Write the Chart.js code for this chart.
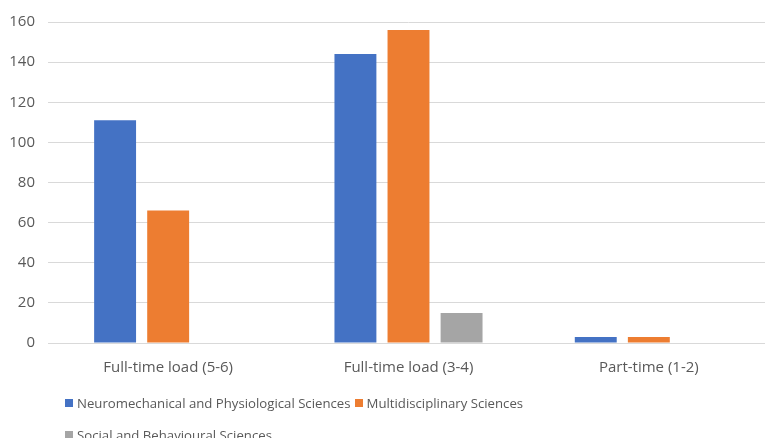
<!DOCTYPE html>
<html>
<head>
<meta charset="utf-8">
<script src="https://cdn.jsdelivr.net/npm/chart.js@4/dist/chart.umd.min.js"></script>
<style>
  html, body { margin: 0; padding: 0; background: #fff; overflow: hidden; width: 765px; height: 438px; }
  #wrap { position: relative; width: 772px; height: 393px; }
  #legend { position: absolute; left: 65px; top: 387px; width: 560px; display: flex; flex-wrap: wrap;
            font-family: "Open Sans", "Liberation Sans", sans-serif; font-size: 13.2px; color: #595959; }
  .item { display: flex; align-items: center; height: 32px; margin-right: 4px; white-space: nowrap; }
  .box { width: 8px; height: 8px; margin-right: 4px; }
</style>
</head>
<body>
<div id="wrap"><canvas id="c"></canvas></div>
<div id="legend"></div>
<script>
// Course load categories
const categories = ["Full-time load (5-6)", "Full-time load (3-4)", "Part-time (1-2)"];
// Number of students per discipline group
const neuroValues = [111, 144, 3];
const multiValues = [66, 156, 3];
const socialValues = [0, 15, 0];
const seriesNames = ["Neuromechanical and Physiological Sciences", "Multidisciplinary Sciences", "Social and Behavioural Sciences"];
const yTicks = [0, 20, 40, 60, 80, 100, 120, 140, 160];

const colors = ["#4472C4", "#ED7D31", "#A5A5A5"];
const textColor = "#595959";
const fontFamily = '"Open Sans", "Liberation Sans", sans-serif';

const chart = new Chart(document.getElementById("c"), {
  type: "bar",
  data: {
    labels: categories,
    datasets: [neuroValues, multiValues, socialValues].map((vals, i) => ({
      label: seriesNames[i],
      data: vals,
      backgroundColor: colors[i],
      borderWidth: 0,
      barPercentage: 0.79,
      categoryPercentage: 0.6625
    }))
  },
  options: {
    responsive: true,
    maintainAspectRatio: false,
    animation: false,
    layout: { padding: { top: 20, left: 8, right: 3, bottom: 0 }, autoPadding: false },
    plugins: { legend: { display: false }, tooltip: { enabled: false } },
    scales: {
      x: {
        grid: { display: false, drawTicks: false },
        border: { color: "#d9d9d9", width: 1 },
        ticks: { color: textColor, padding: 16, font: { family: fontFamily, size: 15 } }
      },
      y: {
        min: 0,
        max: 160,
        afterBuildTicks: (axis) => { axis.ticks = yTicks.map(v => ({ value: v })); },
        afterFit: (axis) => { axis.width = 40; },
        grid: { color: "#d9d9d9", drawTicks: false, lineWidth: 1 },
        border: { display: false },
        ticks: { color: textColor, padding: 13, font: { family: fontFamily, size: 15 } }
      }
    }
  }
});

// Legend built from the chart's datasets
const legend = document.getElementById("legend");
chart.data.datasets.forEach(ds => {
  const item = document.createElement("div");
  item.className = "item";
  const box = document.createElement("span");
  box.className = "box";
  box.style.background = ds.backgroundColor;
  const txt = document.createElement("span");
  txt.textContent = ds.label;
  item.appendChild(box);
  item.appendChild(txt);
  legend.appendChild(item);
});
</script>
</body>
</html>
